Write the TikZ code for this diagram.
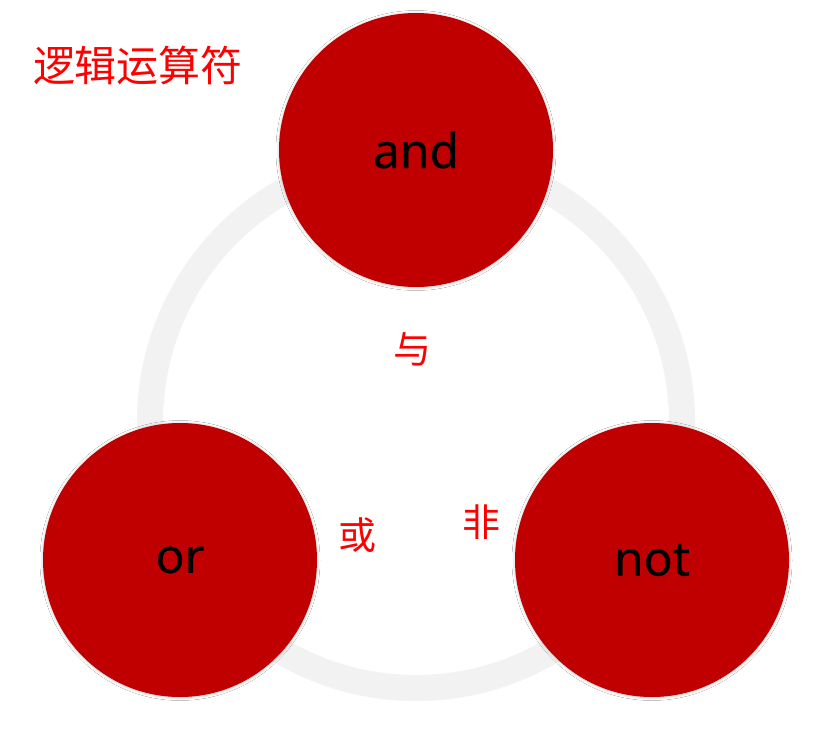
\documentclass[tikz,border=0pt]{standalone}
\usepackage{fontspec}
\setmainfont{Noto Sans}[FakeBold=0.4]
\newfontfamily\cjk{Noto Sans CJK SC}
\usetikzlibrary{shadows.blur}
\definecolor{dred}{HTML}{C00000}
\definecolor{ringgray}{HTML}{F2F2F2}
\begin{document}
\begin{tikzpicture}[x=1pt,y=-1pt,
  bigc/.style={circle, fill=dred, minimum size=274pt, inner sep=0pt,
    font=\fontsize{48}{48}\selectfont, text=black,
    blur shadow={shadow xshift=0pt, shadow yshift=-0.5pt, shadow blur radius=3pt, shadow blur steps=8, shadow opacity=22}},
  cjklabel/.style={text=red, font=\cjk\fontsize{38}{38}\selectfont, inner sep=0pt}]
\useasboundingbox (0,0) rectangle (820,734);
\fill[white] (0,0) rectangle (820,734);
\draw[ringgray, line width=26pt] (416,422) circle (266);
\node[bigc] (and) at (416,150) {and};
\node[bigc] (or) at (180,560) {or};
\node[bigc] (not) at (652,560) {not};
\node[cjklabel] (yu) at (412,349) {与};
\node[cjklabel] (huo) at (357,535) {或};
\node[cjklabel] (fei) at (481,522) {非};
\node[cjklabel, font=\cjk\fontsize{42}{42}\selectfont] (title) at (138,66) {逻辑运算符};
\end{tikzpicture}
\end{document}
